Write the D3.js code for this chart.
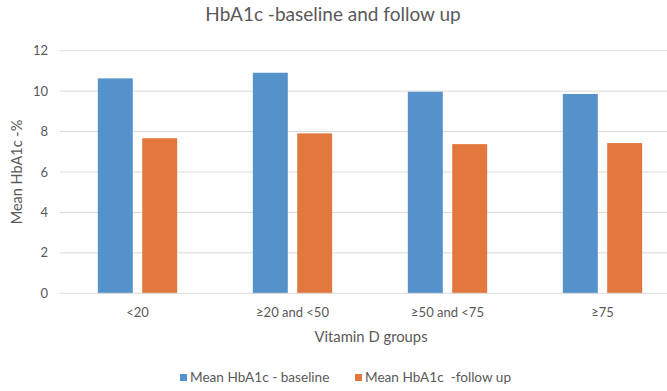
<!DOCTYPE html>
<html>
<head>
<meta charset="utf-8">
<script src="https://cdn.jsdelivr.net/npm/d3@7"></script>
<style>
html,body{margin:0;padding:0;background:#fff;}
svg{display:block;font-family:Lato,"Open Sans",sans-serif;}
</style>
</head>
<body>
<svg id="chart" width="667" height="391"></svg>
<script>
const categories = ["<20", "≥20 and <50", "≥50 and <75", "≥75"];
const seriesNames = ["Mean HbA1c - baseline", "Mean HbA1c  -follow up"];
const baseline = [10.63, 10.91, 9.97, 9.86];
const followUp = [7.67, 7.91, 7.38, 7.43];
const yTicks = [0, 2, 4, 6, 8, 10, 12];
const colors = ["#5591CA", "#E3783F"];

const svg = d3.select("#chart");
const W = 667, H = 391;
const m = {left: 60, right: 680, top: 50.7, bottom: 293.3};

const x = d3.scaleBand().domain(categories).range([m.left, m.right])
  .paddingInner(0.488).paddingOuter(0.244);
const xs = d3.scaleBand().domain(seriesNames).range([0, x.bandwidth()]).paddingInner(0.212);
const y = d3.scaleLinear().domain([0, 12]).range([m.bottom, m.top]);

const textColor = "#595959";

// gridlines
svg.append("g").selectAll("line").data(yTicks.filter(d => d > 0)).join("line")
  .attr("x1", m.left).attr("x2", W)
  .attr("y1", d => y(d)).attr("y2", d => y(d))
  .attr("stroke", "#d9d9d9").attr("stroke-width", 1);

// bars
const data = categories.map((c, i) => ({cat: c, vals: [baseline[i], followUp[i]]}));
const g = svg.append("g").selectAll("g").data(data).join("g")
  .attr("transform", d => `translate(${x(d.cat)},0)`);
g.selectAll("rect").data(d => d.vals.map((v, j) => ({v, s: seriesNames[j], j}))).join("rect")
  .attr("x", d => xs(d.s)).attr("width", xs.bandwidth())
  .attr("y", d => y(d.v)).attr("height", d => y(0) - y(d.v))
  .attr("fill", d => colors[d.j]);

// x axis line
svg.append("line").attr("x1", m.left).attr("x2", W)
  .attr("y1", y(0)).attr("y2", y(0)).attr("stroke", "#d9d9d9").attr("stroke-width", 1);

// y tick labels
svg.append("g").selectAll("text").data(yTicks).join("text")
  .attr("x", 48).attr("y", d => y(d)).attr("dy", "0.35em")
  .attr("text-anchor", "end").attr("font-size", 13).attr("fill", textColor)
  .text(d => d);

// x tick labels
svg.append("g").selectAll("text").data(categories).join("text")
  .attr("x", d => x(d) + x.bandwidth() / 2).attr("y", 317)
  .attr("text-anchor", "middle").attr("font-size", 13).attr("fill", textColor)
  .text(d => d);

// title
svg.append("text").attr("x", 333).attr("y", 21).attr("text-anchor", "middle")
  .attr("font-size", 19).attr("fill", textColor).text("HbA1c -baseline and follow up");

// axis titles
svg.append("text").attr("x", 371).attr("y", 342).attr("text-anchor", "middle")
  .attr("font-size", 14.8).attr("fill", textColor).text("Vitamin D groups");
svg.append("text").attr("transform", `translate(22,${(m.top + m.bottom) / 2}) rotate(-90)`)
  .attr("text-anchor", "middle").attr("font-size", 14.5).attr("fill", textColor).text("Mean HbA1c -%");

// legend
const legendX = [180, 355];
const lg = svg.append("g").selectAll("g").data(seriesNames).join("g")
  .attr("transform", (d, i) => `translate(${legendX[i]},382)`);
lg.append("rect").attr("x", 0).attr("y", -8).attr("width", 7).attr("height", 7)
  .attr("fill", (d, i) => colors[i]);
lg.append("text").attr("x", 10).attr("y", 0).attr("font-size", 13.6).attr("fill", textColor)
  .attr("xml:space", "preserve").style("white-space", "pre").text(d => d);
</script>
</body>
</html>
